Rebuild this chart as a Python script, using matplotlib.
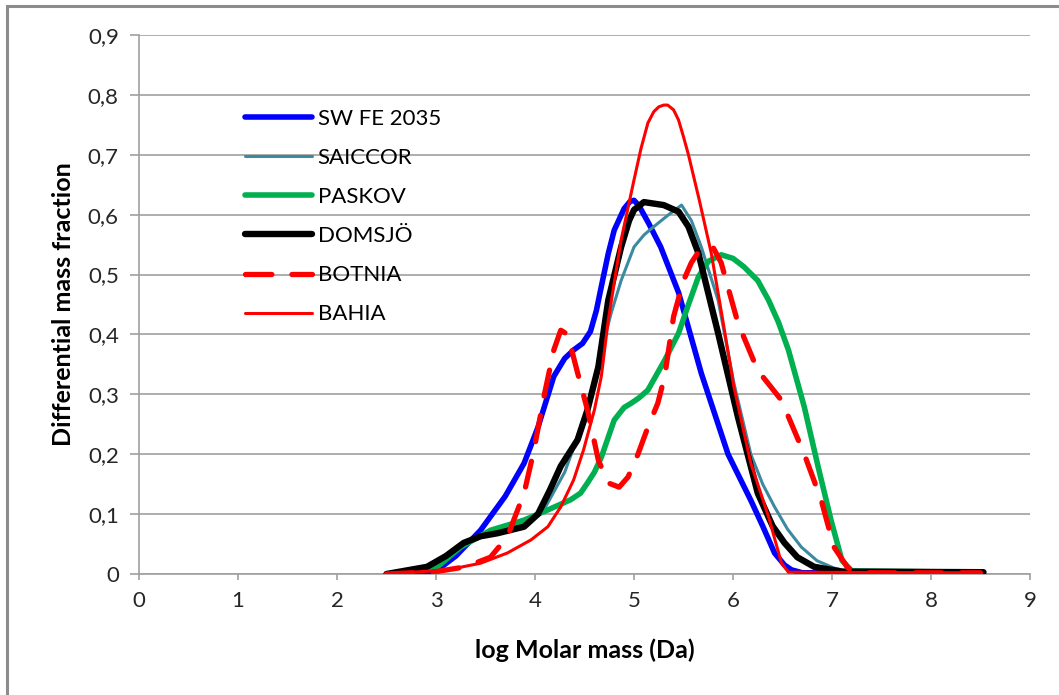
import matplotlib.pyplot as plt
from matplotlib.patches import Rectangle

# valores (log M, fraccion de masa diferencial)
sw_x = [2.5, 3.0, 3.2, 3.45, 3.7, 3.89, 4.03, 4.19, 4.3, 4.39, 4.48, 4.56, 4.62, 4.67, 4.74, 4.8, 4.9, 4.96, 5.0,
        5.05, 5.15, 5.27, 5.45, 5.68, 5.95, 6.18, 6.3, 6.42, 6.52, 6.59, 6.7, 8.5]
sw_y = [0.0, 0.005, 0.03, 0.073, 0.13, 0.185, 0.245, 0.33, 0.36, 0.374, 0.385, 0.405, 0.44, 0.48, 0.535, 0.574, 0.61,
        0.622, 0.624, 0.615, 0.585, 0.546, 0.47, 0.335, 0.20, 0.123, 0.08, 0.035, 0.015, 0.007, 0.002, 0.002]

sai_x = [2.5, 3.0, 3.3, 3.6, 3.9, 4.1, 4.3, 4.5, 4.65, 4.77, 4.87, 5.0, 5.1, 5.2, 5.35, 5.48, 5.58, 5.68,
         5.85, 6.01, 6.18, 6.3, 6.42, 6.55, 6.69, 6.85, 7.02, 7.2, 8.5]
sai_y = [0.0, 0.01, 0.05, 0.072, 0.085, 0.11, 0.17, 0.26, 0.36, 0.436, 0.49, 0.546, 0.566, 0.58, 0.60, 0.616, 0.59,
         0.546, 0.457, 0.318, 0.20, 0.15, 0.112, 0.075, 0.045, 0.022, 0.01, 0.003, 0.003]

pas_x = [2.5, 3.0, 3.25, 3.55, 3.89, 4.13, 4.36, 4.46, 4.53, 4.6, 4.67, 4.8, 4.9, 4.97, 5.05, 5.14, 5.31, 5.45,
         5.55, 5.65, 5.75, 5.88, 6.0, 6.11, 6.25, 6.36, 6.46, 6.56, 6.72, 6.86, 6.99, 7.1, 7.2, 8.5]
pas_y = [0.0, 0.01, 0.045, 0.073, 0.09, 0.107, 0.124, 0.135, 0.152, 0.17, 0.195, 0.257, 0.278, 0.285, 0.294, 0.307,
         0.357, 0.402, 0.45, 0.496, 0.522, 0.533, 0.527, 0.513, 0.49, 0.457, 0.42, 0.374, 0.279, 0.179, 0.09, 0.023,
         0.005, 0.003]

dom_x = [2.5, 2.91, 3.1, 3.28, 3.45, 3.62, 3.89, 4.03, 4.15, 4.26, 4.43, 4.53, 4.64, 4.74, 4.87, 4.95, 5.0, 5.1,
         5.3, 5.45, 5.55, 5.65, 5.85, 6.05, 6.25, 6.4, 6.52, 6.65, 6.82, 7.1, 8.53]
dom_y = [0.0, 0.012, 0.03, 0.052, 0.063, 0.068, 0.079, 0.10, 0.14, 0.18, 0.224, 0.274, 0.346, 0.457, 0.546, 0.59,
         0.608, 0.621, 0.616, 0.605, 0.58, 0.536, 0.402, 0.262, 0.135, 0.08, 0.052, 0.028, 0.012, 0.004, 0.003]

bot_x = [2.5, 3.0, 3.3, 3.55, 3.72, 3.89, 3.99, 4.09, 4.19, 4.26, 4.33, 4.43, 4.53, 4.64, 4.74, 4.85,
         4.94, 5.04, 5.14, 5.24, 5.31, 5.4, 5.5, 5.58, 5.66, 5.73, 5.8, 5.88, 6.05, 6.25, 6.49, 6.72, 6.89, 7.02, 7.16,
         7.3, 8.5]
bot_y = [0.0, 0.004, 0.012, 0.028, 0.062, 0.135, 0.207, 0.296, 0.374, 0.407, 0.40, 0.336, 0.274, 0.19, 0.152, 0.145,
         0.162, 0.20, 0.245, 0.285, 0.33, 0.43, 0.49, 0.52, 0.54, 0.548, 0.545, 0.52, 0.419, 0.34, 0.29, 0.20, 0.124,
         0.045, 0.01, 0.002, 0.002]

bah_x = [2.5, 3.12, 3.45, 3.72, 3.96, 4.13, 4.26, 4.39, 4.49, 4.6, 4.67, 4.74, 4.87, 5.0, 5.07, 5.14, 5.2, 5.25,
         5.3, 5.34, 5.4, 5.45, 5.5, 5.55, 5.66, 5.78, 5.88, 6.01, 6.18, 6.36, 6.49, 6.56, 8.5]
bah_y = [0.0, 0.007, 0.018, 0.035, 0.057, 0.079, 0.112, 0.157, 0.207, 0.274, 0.33, 0.424, 0.558, 0.658, 0.71, 0.753,
         0.772, 0.78, 0.783, 0.783, 0.775, 0.758, 0.73, 0.70, 0.624, 0.536, 0.44, 0.312, 0.185, 0.095, 0.018, 0.003,
         0.002]

xticks = list(range(0, 10))
yticks = [0, 0.1, 0.2, 0.3, 0.4, 0.5, 0.6, 0.7, 0.8, 0.9]
ylabels = ['0', '0,1', '0,2', '0,3', '0,4', '0,5', '0,6', '0,7', '0,8', '0,9']

plt.rcParams['font.family'] = ['Lato', 'DejaVu Sans']

fig = plt.figure(figsize=(10.59, 6.95), dpi=100)
ax = fig.add_axes([139 / 1059, 121 / 695, 891 / 1059, 539 / 695])

kw = dict(solid_capstyle='round', solid_joinstyle='round')
ax.plot(sw_x, sw_y, color='#0000FF', lw=4.0, label='SW FE 2035', zorder=3, **kw)
ax.plot(sai_x, sai_y, color='#3B8AA0', lw=2.2, label='SAICCOR', zorder=3, **kw)
ax.plot(pas_x, pas_y, color='#00B050', lw=4.0, label='PASKOV', zorder=3, **kw)
ax.plot(dom_x, dom_y, color='black', lw=4.6, label='DOMSJÖ', zorder=4, **kw)
ax.plot(bot_x, bot_y, color='#FF0000', lw=3.8, ls=(0, (5, 3.8)), dash_capstyle='round',
        solid_joinstyle='round', label='BOTNIA', zorder=5)
ax.plot(bah_x, bah_y, color='#FF0000', lw=2.2, label='BAHIA', zorder=5, **kw)

ax.set_xlim(0, 9)
ax.set_ylim(0, 0.9)
ax.set_xticks(xticks)
ax.set_yticks(yticks)
ax.set_yticklabels(ylabels)
ax.tick_params(labelsize=16, colors='#a0a0a0', labelcolor='#262626', width=1.2)
ax.tick_params(axis='x', length=4, pad=8)
ax.tick_params(axis='y', length=6.5, pad=8)
ax.grid(axis='y', color='#a0a0a0', lw=1.2)
ax.set_axisbelow(True)
for s in ['top', 'right']:
    ax.spines[s].set_visible(False)
for s in ['left', 'bottom']:
    ax.spines[s].set_color('#a0a0a0')
    ax.spines[s].set_linewidth(1.2)

ax.set_xlabel('log Molar mass (Da)', fontsize=18, fontweight='bold', labelpad=20)
ax.set_ylabel('Differential mass fraction', fontsize=18, fontweight='bold', labelpad=9)

leg = ax.legend(loc='upper left', bbox_to_anchor=(0.097, 0.9), frameon=False, fontsize=16,
                handlelength=3.0, labelspacing=0.86, handletextpad=0.25)

# borde del grafico
fig.patches.append(Rectangle((7 / 1059, -0.5), 1.1, 1.5 - 6 / 695, transform=fig.transFigure,
                             fill=False, edgecolor='#8c8c8c', lw=2.2))

plt.savefig('out.png', dpi=100)
